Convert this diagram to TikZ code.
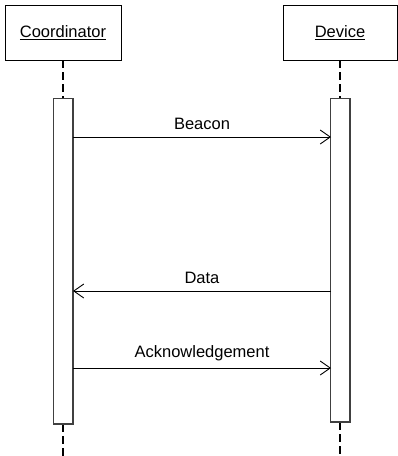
\documentclass[tikz,border=0pt]{standalone}
\usepackage{fontspec}
\setmainfont{Liberation Sans}
\usetikzlibrary{arrows.meta}
\begin{document}
\begin{tikzpicture}[x=1pt,y=-1pt,
  every node/.style={font=\fontsize{16.5}{19}\selectfont},
  objbox/.style={draw=black,line width=0.9pt,fill=white,minimum height=55pt,inner sep=0pt},
  lifeline/.style={draw=black,line width=2pt,dash pattern=on 8pt off 4pt},
  activation/.style={draw=black!75,line width=1.3pt,fill=white},
  msg/.style={draw=black,line width=0.9pt,-{Straight Barb[length=10pt,width=14pt,line width=0.9pt]}},
  msglabel/.style={inner sep=1pt}]
  \useasboundingbox (0,0) rectangle (398,456);

  % participants
  \node[objbox,minimum width=116pt] (coord) at (63,32.5) {\underline{Coordinator}};
  \node[objbox,minimum width=114pt] (dev) at (340,32.5) {\underline{Device}};

  % lifeline ends
  \coordinate (cendtop) at (63,98);
  \coordinate (dendtop) at (340,98);
  \coordinate (cbot) at (63,456);
  \coordinate (dbot) at (340,456);

  % dashed lifelines
  \draw[lifeline] (coord.south) -- (cendtop);
  \draw[lifeline] (dev.south) -- (dendtop);
  \draw[lifeline] (63,424) -- (cbot);
  \draw[lifeline] (340,422) -- (dbot);

  % activation bars
  \draw[activation] (53.5,98.5) rectangle (73,424);
  \draw[activation] (330.5,98.5) rectangle (350,422);
  \coordinate (cb) at (73,137);
  \coordinate (db) at (331,137);
  \coordinate (dd) at (331,291);
  \coordinate (cd) at (73,291);
  \coordinate (ca) at (73,368);
  \coordinate (da) at (331,368);

  % messages
  \draw[msg] (cb) -- node[msglabel,above=6pt] (beacon) {Beacon} (db);
  \draw[msg] (dd) -- node[msglabel,above=6pt] (data) {Data} (cd);
  \draw[msg] (ca) -- node[msglabel,above=6pt] (ack) {Acknowledgement} (da);
\end{tikzpicture}
\end{document}
